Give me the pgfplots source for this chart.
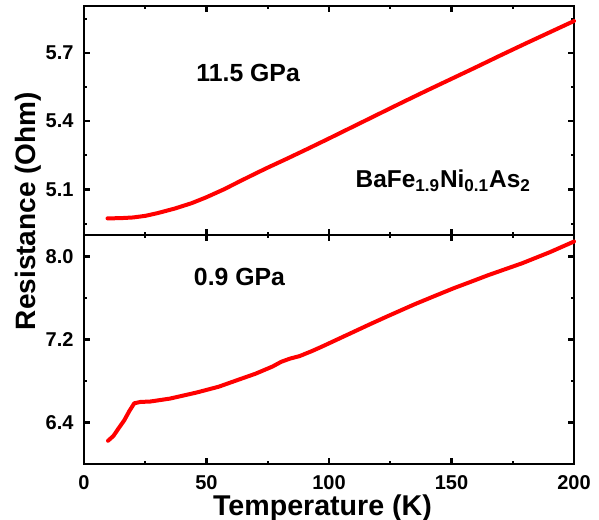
\documentclass[border=0pt]{standalone}
\usepackage{pgfplots}
\pgfplotsset{compat=1.18}
\usepackage{fontspec}
\setmainfont{Liberation Sans}
\begin{document}
\begin{tikzpicture}
\pgfplotsset{
  every axis/.append style={
    scale only axis, width=245pt, height=114.5pt,
    xmin=0, xmax=200,
    axis line style={line width=1.3pt},
    every tick/.style={black, line width=1.1pt},
    major tick length=3pt, minor tick length=1.7pt,
    tick align=inside,
    xtick={0,50,...,200}, minor xtick={25,75,125,175},
    ticklabel style={font=\fontsize{10}{12}\selectfont\bfseries},
    /pgf/number format/assume math mode=true,
    yticklabel style={/pgf/number format/.cd, fixed, fixed zerofill, precision=1, /tikz/.cd, xshift=-1.7pt},
    xticklabel style={yshift=-2pt},
    clip=false,
  }
}
\begin{axis}[at={(0,114.5pt)}, xticklabels={}, ymin=4.9, ymax=5.906,
  ytick={5.1,5.4,5.7}, minor ytick={4.95,5.25,5.55,5.85}]
\addplot[red, line width=2pt, line join=round, line cap=round] coordinates {
(9.6,4.973) (15,4.974) (20,4.977) (25,4.984) (30,4.996) (37,5.016) (44,5.040)
(50,5.066) (57,5.100) (64,5.138) (70,5.170) (75,5.196) (83,5.236) (91,5.277)
(100,5.324) (110,5.377) (120,5.430) (130,5.483) (140,5.535) (150,5.586)
(160,5.637) (170,5.689) (180,5.740) (190,5.790) (200,5.840)};
\node[anchor=base west, font=\fontsize{12.4}{14}\selectfont\bfseries] at (axis cs:43,5.576) {11.5 GPa};
\node[anchor=base west, font=\fontsize{12.2}{14}\selectfont\bfseries] at (axis cs:108,5.107) {BaFe\textsubscript{1.9}Ni\textsubscript{0.1}As\textsubscript{2}};
\end{axis}
\begin{axis}[ymin=6.0, ymax=8.207,
  ytick={6.4,7.2,8.0}, minor ytick={6.8,7.6}]
\addplot[red, line width=2pt, line join=round, line cap=round] coordinates {
(9.8,6.224) (12,6.27) (14.3,6.35) (16.4,6.42) (18.5,6.51) (20.5,6.585) (23,6.598)
(27,6.602) (35,6.63) (46,6.689) (55,6.745) (63,6.812) (70,6.87) (77,6.94)
(80.5,6.985) (84,7.015) (88,7.04) (93,7.088) (97,7.13) (102,7.185) (110,7.273)
(117,7.35) (124,7.425) (135,7.54) (143,7.618) (151,7.695) (158,7.757) (165,7.82)
(172,7.878) (179,7.936) (190,8.04) (200,8.144)};
\node[anchor=base west, font=\fontsize{12.4}{14}\selectfont\bfseries] at (axis cs:42,7.718) {0.9 GPa};
\end{axis}
\node[rotate=90, font=\fontsize{14}{16}\selectfont\bfseries] at (-28pt,126.5pt) {Resistance (Ohm)};
\node[anchor=base, font=\fontsize{14.3}{16}\selectfont\bfseries] at (119.25pt,-26pt) {Temperature (K)};
\pgfresetboundingbox
\path (-42pt,-27.5pt) rectangle (257.5pt,232pt);
\end{tikzpicture}
\end{document}
